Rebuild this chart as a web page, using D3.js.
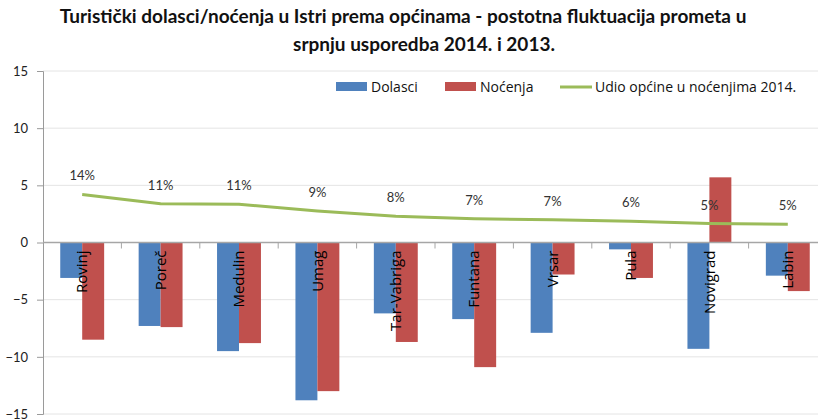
<!DOCTYPE html>
<html>
<head>
<meta charset="utf-8">
<script src="https://cdn.jsdelivr.net/npm/d3@7"></script>
<style>
  body { margin: 0; background: #fff; }
  svg { display: block; font-family: "Open Sans", "Liberation Sans", sans-serif; }
</style>
</head>
<body>
<div id="chart"></div>
<script>
const categories = ["Rovinj", "Poreč", "Medulin", "Umag", "Tar-Vabriga", "Funtana", "Vrsar", "Pula", "Novigrad", "Labin"];
const dolasci = [-3.1, -7.3, -9.5, -13.8, -6.2, -6.7, -7.9, -0.6, -9.3, -2.9];
const nocenja = [-8.5, -7.4, -8.8, -13.0, -8.7, -10.9, -2.8, -3.1, 5.7, -4.25];
const udio = [4.2, 3.4, 3.35, 2.75, 2.3, 2.07, 1.98, 1.86, 1.66, 1.6];
const udioLabels = ["14%", "11%", "11%", "9%", "8%", "7%", "7%", "6%", "5%", "5%"];
const yTicks = [-15, -10, -5, 0, 5, 10, 15];

const width = 818;
const height = 419;
const margin = { top: 71, left: 43, right: -9, bottom: 5 };

const colors = { dolasci: "#4F81BD", nocenja: "#C0504D", udio: "#9BBB59" };

const svg = d3.select("#chart")
    .append("svg")
    .attr("width", width)
    .attr("height", height);

const x = d3.scaleBand()
    .domain(categories)
    .range([margin.left, width - margin.right])
    .padding(0);

const y = d3.scaleLinear()
    .domain([-15, 15])
    .range([height - margin.bottom, margin.top]);

// grid
svg.append("g")
    .selectAll("line")
    .data(yTicks)
    .enter()
    .append("line")
    .attr("x1", margin.left)
    .attr("x2", width)
    .attr("y1", d => y(d))
    .attr("y2", d => y(d))
    .attr("stroke", "#e4e4e4")
    .attr("stroke-width", 1);

// y axis
const yAxis = svg.append("g")
    .attr("transform", "translate(" + margin.left + ",0)")
    .call(d3.axisLeft(y).tickValues(yTicks).tickSize(6).tickPadding(9));
yAxis.select(".domain").attr("stroke", "#9a9a9a");
yAxis.selectAll(".tick line").attr("stroke", "#9a9a9a");
yAxis.selectAll(".tick text")
    .attr("font-size", "13px")
    .attr("fill", "#222")
    .attr("font-family", "Lato, sans-serif");

// bars
const groupWidth = x.bandwidth() * 0.56;
const x1 = d3.scaleBand()
    .domain(["dolasci", "nocenja"])
    .range([(x.bandwidth() - groupWidth) / 2, (x.bandwidth() + groupWidth) / 2]);

const rows = categories.map((c, i) => ({ c, dolasci: dolasci[i], nocenja: nocenja[i] }));

const groups = svg.append("g")
    .selectAll("g")
    .data(rows)
    .enter()
    .append("g")
    .attr("transform", d => "translate(" + x(d.c) + ",0)");

groups.selectAll("rect")
    .data(d => ["dolasci", "nocenja"].map(k => ({ k, v: d[k] })))
    .enter()
    .append("rect")
    .attr("x", d => x1(d.k))
    .attr("width", x1.bandwidth())
    .attr("y", d => y(Math.max(0, d.v)))
    .attr("height", d => Math.abs(y(d.v) - y(0)))
    .attr("fill", d => colors[d.k]);

// zero axis with category ticks
svg.append("line")
    .attr("x1", margin.left)
    .attr("x2", width)
    .attr("y1", y(0))
    .attr("y2", y(0))
    .attr("stroke", "#a6a6a6")
    .attr("stroke-width", 1.5);

svg.append("g")
    .selectAll("line")
    .data(categories.slice(1))
    .enter()
    .append("line")
    .attr("x1", d => x(d))
    .attr("x2", d => x(d))
    .attr("y1", y(0))
    .attr("y2", y(0) + 6)
    .attr("stroke", "#a6a6a6");

// category labels (rotated)
svg.append("g")
    .selectAll("text")
    .data(categories)
    .enter()
    .append("text")
    .attr("transform", d => "translate(" + (x(d) + x.bandwidth() / 2) + "," + (y(0) + 8) + ") rotate(-90)")
    .attr("text-anchor", "end")
    .attr("dy", "0.35em")
    .attr("font-size", "15px")
    .attr("fill", "#000")
    .text(d => d);

// line
const line = d3.line()
    .x((d, i) => x(categories[i]) + x.bandwidth() / 2)
    .y(d => y(d));

svg.append("path")
    .datum(udio)
    .attr("d", line)
    .attr("fill", "none")
    .attr("stroke", colors.udio)
    .attr("stroke-width", 3);

svg.append("g")
    .selectAll("text")
    .data(udio)
    .enter()
    .append("text")
    .attr("x", (d, i) => x(categories[i]) + x.bandwidth() / 2)
    .attr("y", d => y(d) - 14)
    .attr("text-anchor", "middle")
    .attr("font-size", "13px")
    .attr("font-family", "Lato, sans-serif")
    .attr("fill", "#333")
    .text((d, i) => udioLabels[i]);

// title
const title = svg.append("text")
    .attr("text-anchor", "middle")
    .attr("font-family", "Lato, sans-serif")
    .attr("font-weight", "700")
    .attr("font-size", "19px")
    .attr("fill", "#111");
title.append("tspan").attr("x", 403).attr("y", 23)
    .text("Turistički dolasci/noćenja u Istri prema općinama - postotna fluktuacija prometa u");
title.append("tspan").attr("x", 424).attr("y", 51)
    .text("srpnju usporedba 2014. i 2013.");

// legend
const legend = svg.append("g").attr("font-size", "14px").attr("fill", "#111");
const legendItems = [
    { label: "Dolasci", key: "dolasci", type: "rect", x: 336 },
    { label: "Noćenja", key: "nocenja", type: "rect", x: 445 },
    { label: "Udio općine u noćenjima 2014.", key: "udio", type: "line", x: 560 }
];
legendItems.forEach(it => {
    if (it.type === "rect") {
        legend.append("rect")
            .attr("x", it.x).attr("y", 82).attr("width", 31).attr("height", 9)
            .attr("fill", colors[it.key]);
    } else {
        legend.append("line")
            .attr("x1", it.x).attr("x2", it.x + 32).attr("y1", 87).attr("y2", 87)
            .attr("stroke", colors[it.key]).attr("stroke-width", 3);
    }
    legend.append("text")
        .attr("x", it.x + 35).attr("y", 92)
        .attr("fill", "#111")
        .text(it.label);
});
</script>
</body>
</html>
